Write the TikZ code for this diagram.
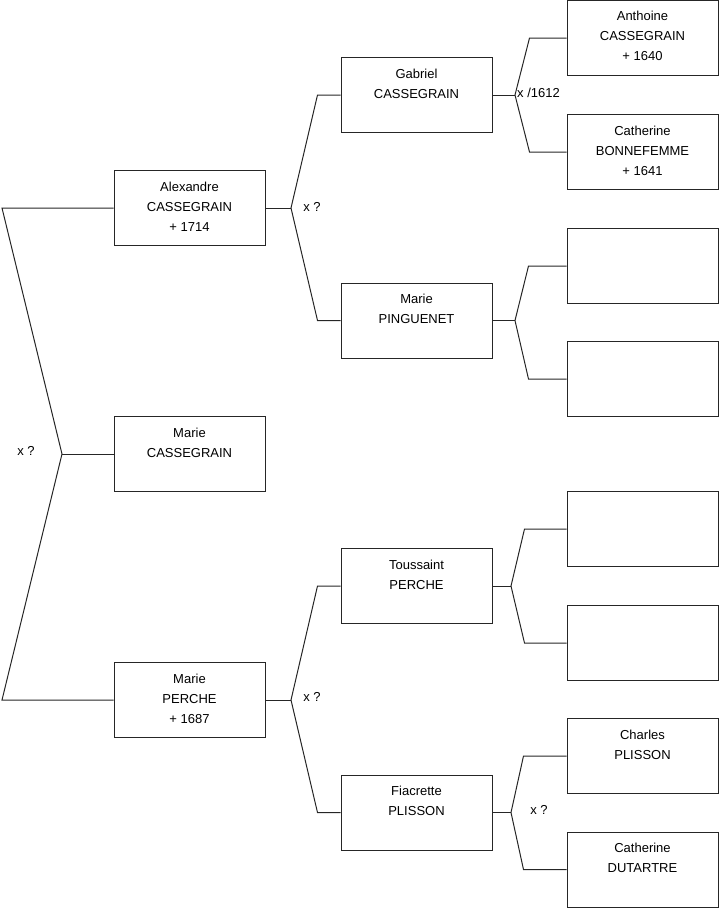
\documentclass[tikz,border=0pt]{standalone}
\usepackage{fontspec}
\setmainfont{Liberation Sans}
\begin{document}
\begin{tikzpicture}[x=1pt,y=-1pt,
  person/.style={draw=black!85, line width=1pt, minimum width=151pt, minimum height=75pt, inner sep=0pt, fill=white},
  lbl/.style={anchor=north, align=center, inner sep=0pt, font=\fontsize{13}{20}\selectfont},
  marr/.style={inner sep=0pt, font=\fontsize{13}{20}\selectfont},
  link/.style={draw=black!85, line width=1pt}]
\useasboundingbox (0,0) rectangle (719,908);
% column 1
\node[person] (alex) at (189.5,208) {};
\node[person] (mariec) at (189.5,454) {};
\node[person] (mariep) at (189.5,700) {};
% column 2
\node[person] (gab) at (416.5,95) {};
\node[person] (ping) at (416.5,320.5) {};
\node[person] (tous) at (416.5,586) {};
\node[person] (fiac) at (416.5,812.5) {};
% column 3
\node[person] (anth) at (642.5,38) {};
\node[person] (cathb) at (642.5,152) {};
\node[person] (e1) at (642.5,266) {};
\node[person] (e2) at (642.5,379) {};
\node[person] (e3) at (642.5,529) {};
\node[person] (e4) at (642.5,643) {};
\node[person] (charl) at (642.5,756) {};
\node[person] (cathd) at (642.5,869.5) {};
% texts
\node[lbl] (talex) at ([yshift=-11.5pt]alex.north) {Alexandre\\CASSEGRAIN\\+ 1714};
\node[lbl] (tmariec) at ([yshift=-11.5pt]mariec.north) {Marie\\CASSEGRAIN};
\node[lbl] (tmariep) at ([yshift=-11.5pt]mariep.north) {Marie\\PERCHE\\+ 1687};
\node[lbl] (tgab) at ([yshift=-11.5pt]gab.north) {Gabriel\\CASSEGRAIN};
\node[lbl] (tping) at ([yshift=-11.5pt]ping.north) {Marie\\PINGUENET};
\node[lbl] (ttous) at ([yshift=-11.5pt]tous.north) {Toussaint\\PERCHE};
\node[lbl] (tfiac) at ([yshift=-11.5pt]fiac.north) {Fiacrette\\PLISSON};
\node[lbl] (tanth) at ([yshift=-11pt]anth.north) {Anthoine\\CASSEGRAIN\\+ 1640};
\node[lbl] (tcathb) at ([yshift=-11.5pt]cathb.north) {Catherine\\BONNEFEMME\\+ 1641};
\node[lbl] (tcharl) at ([yshift=-11.5pt]charl.north) {Charles\\PLISSON};
\node[lbl] (tcathd) at ([yshift=-11.5pt]cathd.north) {Catherine\\DUTARTRE};
% fork points
\coordinate (f0) at (62,454);
\coordinate (f0a) at (2,208);
\coordinate (f0b) at (2,700);
\coordinate (f1) at (291,208);
\coordinate (f2) at (291,700);
\coordinate (f3) at (515,95);
\coordinate (f4) at (515,320.5);
\coordinate (f5) at (511,586);
\coordinate (f6) at (511,812.5);
% connectors
\draw[link] (mariec.west) -- (f0);
\draw[link] (alex.west) -- (f0a) -- (f0) -- (f0b) -- (mariep.west);
\draw[link] (alex.east) -- (f1);
\draw[link] (gab.west) -- ++(-23,0) -- (f1) -- ([xshift=-23pt]ping.west) -- (ping.west);
\draw[link] (mariep.east) -- (f2);
\draw[link] (tous.west) -- ++(-23,0) -- (f2) -- ([xshift=-23pt]fiac.west) -- (fiac.west);
\draw[link] (gab.east) -- (f3);
\draw[link] (anth.west) -- ++(-37,0) -- (f3) -- ([xshift=-37pt]cathb.west) -- (cathb.west);
\draw[link] (ping.east) -- (f4);
\draw[link] (e1.west) -- ++(-38,0) -- (f4) -- ([xshift=-38pt]e2.west) -- (e2.west);
\draw[link] (tous.east) -- (f5);
\draw[link] (e3.west) -- ++(-42,0) -- (f5) -- ([xshift=-42pt]e4.west) -- (e4.west);
\draw[link] (fiac.east) -- (f6);
\draw[link] (charl.west) -- ++(-43,0) -- (f6) -- ([xshift=-43pt]cathd.west) -- (cathd.west);
% marriage labels
\node[marr] (m0) at (26,451) {x ?};
\node[marr] (m1) at (312,207) {x ?};
\node[marr] (m2) at (312,697) {x ?};
\node[marr, anchor=west] (m3) at (517,93) {x /1612};
\node[marr] (m6) at (539,810) {x ?};
\end{tikzpicture}
\end{document}
